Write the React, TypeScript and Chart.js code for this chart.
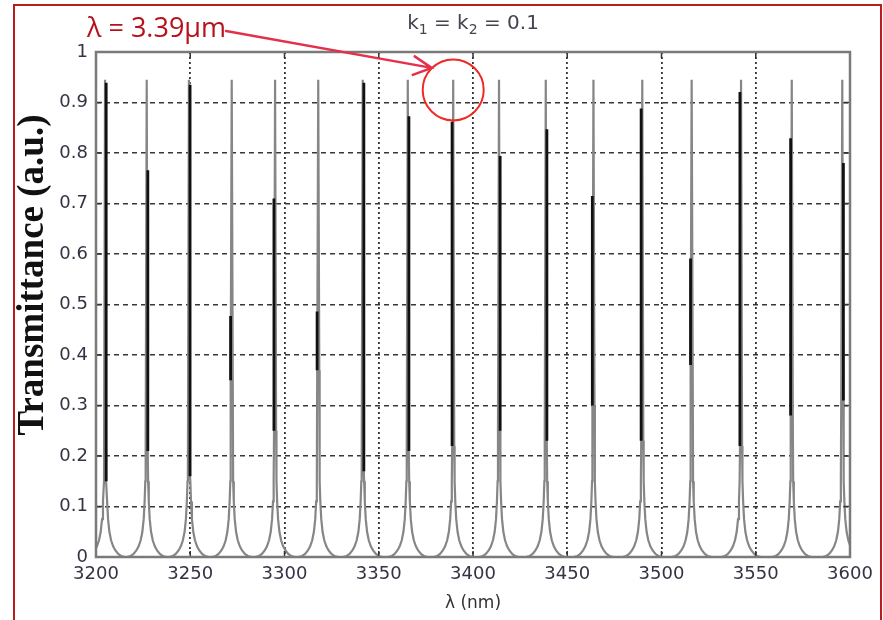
import React, { useEffect, useRef } from 'react';
import { Chart, registerables } from 'chart.js';

Chart.register(...registerables);

// Axis ticks
const xTickValues = [3200, 3250, 3300, 3350, 3400, 3450, 3500, 3550, 3600];
const xTickLabels = ['3200', '3250', '3300', '3350', '3400', '3450', '3500', '3550', '3600'];
const yTickValues = [0, 0.1, 0.2, 0.3, 0.4, 0.5, 0.6, 0.7, 0.8, 0.9, 1];
const yTickLabels = ['0', '0.1', '0.2', '0.3', '0.4', '0.5', '0.6', '0.7', '0.8', '0.9', '1'];

// Gray resonance peaks (wavelength in nm, peak transmittance)
const peakLambda = [3204.8, 3226.9, 3249.3, 3272.0, 3295.0, 3317.9, 3341.5, 3365.4, 3389.5, 3413.8, 3438.6, 3463.9, 3489.8, 3516.0, 3542.2, 3569.1, 3595.9];
const peakTop = [0.945, 0.945, 0.945, 0.945, 0.945, 0.945, 0.945, 0.945, 0.945, 0.945, 0.945, 0.945, 0.945, 0.945, 0.945, 0.945, 0.945];
// level where the broad gray part of each peak ends
const shoulderLevel = [0.15, 0.21, 0.16, 0.35, 0.25, 0.37, 0.17, 0.21, 0.22, 0.25, 0.23, 0.30, 0.23, 0.38, 0.22, 0.28, 0.31];
// shape of one gray peak flank: distance from the centre (nm) and transmittance there
const flankOffset = [10.5, 8.5, 7, 5.5, 4.3, 3.2, 2.3, 1.6, 1.1, 0.75];
const flankLevel = [0, 0.002, 0.006, 0.013, 0.021, 0.033, 0.05, 0.075, 0.11, 0.15];
const shoulderOffset = 0.55;

// Black narrow resonances (wavelength in nm, height reached)
const blackLambda = [3205.4, 3227.5, 3249.9, 3271.4, 3294.4, 3317.3, 3342.1, 3366.0, 3388.9, 3414.4, 3439.2, 3463.3, 3489.2, 3515.4, 3541.6, 3568.5, 3596.5];
const blackTop = [0.939, 0.766, 0.935, 0.477, 0.71, 0.486, 0.939, 0.873, 0.862, 0.794, 0.847, 0.715, 0.888, 0.591, 0.921, 0.829, 0.78];

// Annotation
const markLambda = 3389.5;
const markLevel = 0.925;
const yTitle = 'Transmittance (a.u.)';

function buildGray() {
  const pts: { x: number; y: number }[] = [];
  peakLambda.forEach((c, i) => {
    const s = shoulderLevel[i];
    const left: { x: number; y: number }[] = [];
    flankOffset.forEach((o, j) => {
      if (flankLevel[j] < s) left.push({ x: c - o, y: flankLevel[j] });
    });
    left.push({ x: c - shoulderOffset, y: s });
    const right = left.map((p) => ({ x: 2 * c - p.x, y: p.y })).reverse();
    pts.push(...left, { x: c, y: peakTop[i] }, ...right);
  });
  return pts;
}

function buildBlack() {
  const pts: { x: number; y: number | null }[] = [];
  blackLambda.forEach((b, i) => {
    pts.push({ x: b, y: shoulderLevel[i] }, { x: b, y: blackTop[i] }, { x: b, y: null });
  });
  return pts;
}

const decorPlugin = {
  id: 'decor',
  afterDraw(chart: any) {
    const { ctx, chartArea, scales } = chart;
    const xs = scales.x;
    const ys = scales.y;
    ctx.save();
    // inward tick marks
    ctx.strokeStyle = '#333';
    ctx.lineWidth = 1.5;
    ctx.setLineDash([]);
    const tl = 6;
    yTickValues.forEach((v) => {
      const y = ys.getPixelForValue(v);
      ctx.beginPath();
      ctx.moveTo(chartArea.left, y);
      ctx.lineTo(chartArea.left + tl, y);
      ctx.moveTo(chartArea.right, y);
      ctx.lineTo(chartArea.right - tl, y);
      ctx.stroke();
    });
    xTickValues.forEach((v) => {
      const x = xs.getPixelForValue(v);
      ctx.beginPath();
      ctx.moveTo(x, chartArea.bottom);
      ctx.lineTo(x, chartArea.bottom - tl);
      ctx.moveTo(x, chartArea.top);
      ctx.lineTo(x, chartArea.top + tl);
      ctx.stroke();
    });
    // plot box
    ctx.strokeStyle = '#7a7a7a';
    ctx.lineWidth = 2.5;
    ctx.strokeRect(chartArea.left, chartArea.top, chartArea.right - chartArea.left, chartArea.bottom - chartArea.top);

    // y axis title
    ctx.save();
    ctx.translate(33, 275);
    ctx.rotate(-Math.PI / 2);
    ctx.font = 'bold 37px "Liberation Serif"';
    ctx.fillStyle = '#111';
    ctx.textAlign = 'center';
    ctx.textBaseline = 'middle';
    ctx.fillText(yTitle, 0, 0);
    ctx.restore();

    // title k1 = k2 = 0.1
    const big = '20px "DejaVu Sans"';
    const small = '14px "DejaVu Sans"';
    const parts: [string, boolean][] = [['k', false], ['1', true], [' = k', false], ['2', true], [' = 0.1', false]];
    let total = 0;
    parts.forEach(([t, sub]) => {
      ctx.font = sub ? small : big;
      total += ctx.measureText(t).width;
    });
    let tx = (chartArea.left + chartArea.right) / 2 - total / 2;
    const tb = 29;
    ctx.fillStyle = '#44444f';
    ctx.textBaseline = 'alphabetic';
    ctx.textAlign = 'left';
    parts.forEach(([t, sub]) => {
      ctx.font = sub ? small : big;
      ctx.fillText(t, tx, sub ? tb + 5 : tb);
      tx += ctx.measureText(t).width;
    });

    // red annotation
    const cx = xs.getPixelForValue(markLambda);
    const cy = ys.getPixelForValue(markLevel);
    const r = 30.5;
    ctx.strokeStyle = '#ee2a22';
    ctx.lineWidth = 2;
    ctx.beginPath();
    ctx.arc(cx, cy, r, 0, Math.PI * 2);
    ctx.stroke();

    ctx.font = '27px "Open Sans"';
    ctx.fillStyle = '#b5121b';
    ctx.fillText('λ = 3.39µm', 87, 37);
    const tw = ctx.measureText('λ = 3.39µm').width;

    const tipX = cx - 21.5;
    const tipY = cy - 22;
    ctx.strokeStyle = '#e5304c';
    ctx.lineWidth = 2.5;
    ctx.lineCap = 'round';
    ctx.beginPath();
    ctx.moveTo(87 + tw, 31);
    ctx.lineTo(tipX, tipY);
    ctx.moveTo(tipX - 17, tipY - 11.5);
    ctx.lineTo(tipX, tipY);
    ctx.lineTo(tipX - 19, tipY + 7);
    ctx.stroke();

    // outer red frame
    ctx.strokeStyle = '#b81c1c';
    ctx.lineWidth = 2;
    ctx.strokeRect(14, 5, 867, 640);
    ctx.restore();
  },
};

export default function App() {
  const ref = useRef<HTMLCanvasElement | null>(null);
  useEffect(() => {
    if (!ref.current) return;
    const chart = new Chart(ref.current, {
      type: 'line',
      data: {
        datasets: [
          {
            label: 'narrow',
            data: buildBlack() as any,
            borderColor: '#111111',
            borderWidth: 2.8,
            pointRadius: 0,
            spanGaps: false,
            tension: 0,
            order: 1,
          },
          {
            label: 'broad',
            data: buildGray() as any,
            borderColor: '#868686',
            borderWidth: 2.2,
            pointRadius: 0,
            tension: 0,
            order: 2,
          },
        ],
      },
      options: {
        animation: false,
        responsive: false,
        devicePixelRatio: 1,
        parsing: false as any,
        normalized: true,
        layout: { padding: { top: 52, right: 33, left: 0, bottom: 0 } },
        plugins: { legend: { display: false }, tooltip: { enabled: false } },
        scales: {
          x: {
            type: 'linear',
            min: 3200,
            max: 3600,
            z: 1,
            afterFit: (s: any) => { s.height = 63; },
            afterBuildTicks: (s: any) => { s.ticks = xTickValues.map((v) => ({ value: v })); },
            ticks: {
              callback: (_v: any, i: number) => xTickLabels[i],
              font: { family: '"DejaVu Sans"', size: 18 },
              color: '#333344',
              padding: 7,
              maxRotation: 0,
              autoSkip: false,
            },
            grid: { color: '#333', lineWidth: 1.8, drawTicks: false },
            border: { display: false, dash: [2, 3] },
            title: {
              display: true,
              text: 'λ (nm)',
              font: { family: '"DejaVu Sans"', size: 17, lineHeight: 1.2 },
              color: '#333',
              padding: { top: 0, bottom: 6 },
            },
          },
          y: {
            type: 'linear',
            min: 0,
            max: 1,
            z: 1,
            afterFit: (s: any) => { s.width = 96; },
            afterBuildTicks: (s: any) => { s.ticks = yTickValues.map((v) => ({ value: v })); },
            ticks: {
              callback: (_v: any, i: number) => yTickLabels[i],
              font: { family: '"DejaVu Sans"', size: 18 },
              color: '#333344',
              padding: 8,
              autoSkip: false,
            },
            grid: { color: '#383838', lineWidth: 1.6, drawTicks: false },
            border: { display: false, dash: [5, 4] },
          },
        },
      },
      plugins: [decorPlugin],
    });
    return () => chart.destroy();
  }, []);
  return (
    <div style={{ position: 'absolute', left: 0, top: 0, width: 883, height: 620, background: '#fff' }}>
      <canvas ref={ref} width={883} height={620} style={{ display: 'block' }} />
    </div>
  );
}
